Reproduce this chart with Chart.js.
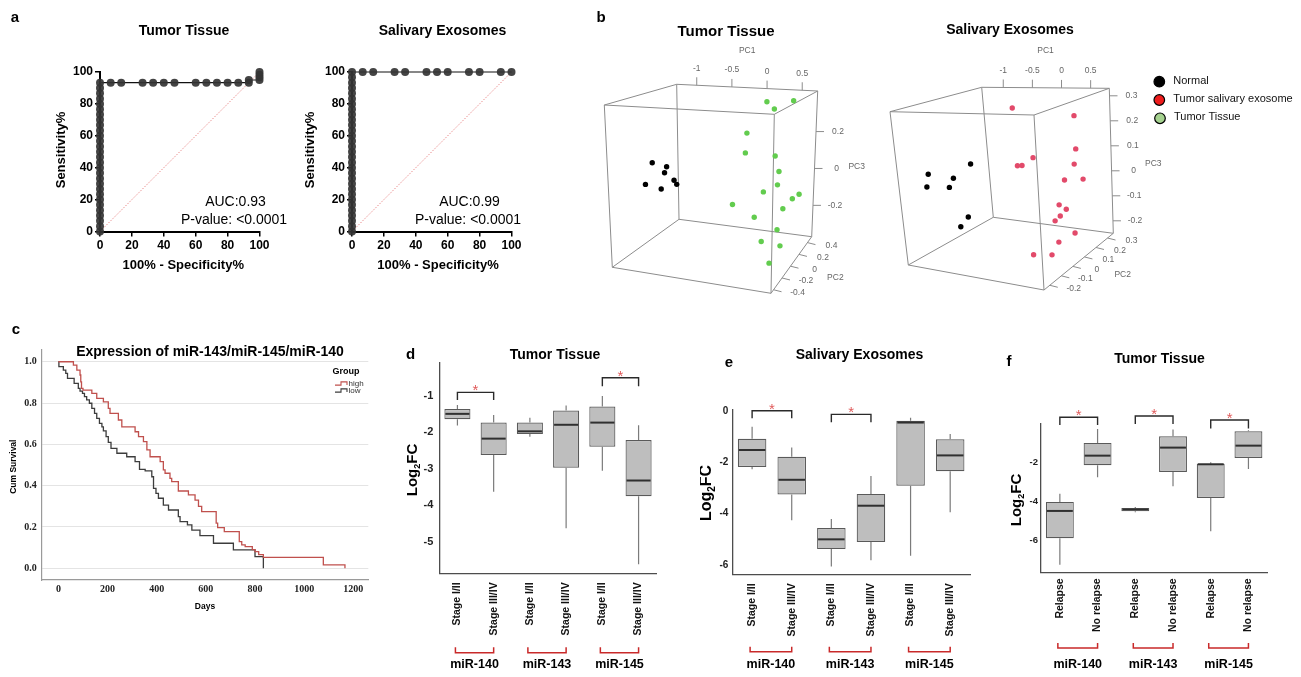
<!DOCTYPE html>
<html>
<head>
<meta charset="utf-8">
<title>miR-140 / miR-143 / miR-145 figure</title>
<script src="https://cdn.jsdelivr.net/npm/chart.js@4.4.1/dist/chart.umd.min.js"></script>
<style>
html,body{margin:0;padding:0;background:#ffffff;}
body{width:1301px;height:677px;position:relative;overflow:hidden;}
canvas{position:absolute;}
</style>
</head>
<body>
<canvas id="rocA1"></canvas>
<canvas id="rocA2"></canvas>
<canvas id="pcaB1"></canvas>
<canvas id="pcaB2"></canvas>
<canvas id="kmC"></canvas>
<canvas id="boxD"></canvas>
<canvas id="boxE"></canvas>
<canvas id="boxF"></canvas>
<script>
// ================= DATA =================
// Panel a : ROC curves (x = 100% - Specificity%, y = Sensitivity%)
const rocTicks = [0, 20, 40, 60, 80, 100];
const rocTissueX = [0,0,0,0,0,0,0,0,0,0, 0,0,0,0,0,0,0,0,0,0, 0,0,0,0,0,0,0,0,0,
  6.7,13.3,26.7,33.3,40,46.7,60,66.7,73.3,80,86.7,93.3, 93.3,100,100,100,100];
const rocTissueY = [0,3.3,6.7,10,13.3,16.7,20,23.3,26.7,30, 33.3,36.7,40,43.3,46.7,50,53.3,56.7,60,63.3,
  66.7,70,73.3,76.7,80,83.3,86.7,90,93.3,
  93.3,93.3,93.3,93.3,93.3,93.3,93.3,93.3,93.3,93.3,93.3,93.3, 95,95,96.7,98.3,100];
const rocSalivaX = [0,0,0,0,0,0,0,0,0,0, 0,0,0,0,0,0,0,0,0,0, 0,0,0,0,0,0,0,0,0,0,0,
  6.7,13.3,26.7,33.3,46.7,53.3,60,73.3,80,93.3,100];
const rocSalivaY = [0,3.3,6.7,10,13.3,16.7,20,23.3,26.7,30, 33.3,36.7,40,43.3,46.7,50,53.3,56.7,60,63.3,
  66.7,70,73.3,76.7,80,83.3,86.7,90,93.3,96.7,100,
  100,100,100,100,100,100,100,100,100,100,100];
const rocDiagX = [0, 100];
const rocDiagY = [0, 100];
const aucTissue = 'AUC:0.93';
const aucSaliva = 'AUC:0.99';
const pValueText = 'P-value: <0.0001';

// Panel b : PCA (PC1, PC2, PC3)
const pcaTissueLim1 = [-1.285, 0.72];
const pcaTissueLim2 = [-0.46, 0.5];
const pcaTissueLim3 = [-0.37, 0.42];
const pcaTissuePC1Ticks = [-1, -0.5, 0, 0.5];
const pcaTissuePC2Ticks = [-0.4, -0.2, 0, 0.2, 0.4];
const pcaTissuePC3Ticks = [-0.2, 0, 0.2];
const pcaTissueNormalPC1 = [-1.16, -0.97, -1.0, -0.875, -0.84, -1.26, -1.05];
const pcaTissueNormalPC2 = [0.02, 0.02, 0.02, 0.02, 0.02, 0.02, 0.02];
const pcaTissueNormalPC3 = [0.063, 0.049, 0.016, -0.018, -0.038, -0.056, -0.071];
const pcaTissueTumorPC1 = [0.279, 0.63, 0.379, 0.02, 0.002, 0.403, 0.459, 0.443, 0.253, 0.628, 0.65, -0.168, 0.524, 0.133, 0.451, 0.235, 0.497, 0.528];
const pcaTissueTumorPC2 = [0.12, 0.12, 0.12, 0.12, 0.12, 0.12, 0.12, 0.12, 0.12, 0.31, 0.12, 0.12, 0.12, 0.12, 0.12, 0.12, 0.12, -0.17];
const pcaTissueTumorPC3 = [0.404, 0.416, 0.369, 0.238, 0.136, 0.133, 0.057, -0.011, -0.054, -0.095, -0.073, -0.136, -0.128, -0.188, -0.236, -0.306, -0.315, -0.319];

const pcaSalivaLim1 = [-1.37, 0.82];
const pcaSalivaLim2 = [-0.25, 0.35];
const pcaSalivaLim3 = [-0.25, 0.33];
const pcaSalivaPC1Ticks = [-1, -0.5, 0, 0.5];
const pcaSalivaPC2Ticks = [-0.2, -0.1, 0, 0.1, 0.2, 0.3];
const pcaSalivaPC3Ticks = [-0.2, -0.1, 0, 0.1, 0.2, 0.3];
const pcaSalivaNormalPC1 = [-0.477, -1.173, -0.774, -1.217, -0.853, -0.59, -0.728];
const pcaSalivaNormalPC2 = [-0.13, -0.13, -0.13, -0.13, -0.13, -0.13, -0.13];
const pcaSalivaNormalPC3 = [0.123, 0.071, 0.064, 0.021, 0.028, -0.076, -0.117];
const pcaSalivaTumorPC1 = [-0.146, 0.465, 0.47, 0.141, -0.126, -0.05, 0.432, 0.251, 0.575, 0.135, 0.257, 0.145, 0.049, 0.393, 0.496, 0.312, 0.621];
const pcaSalivaTumorPC2 = [0.05, 0.23, 0.23, 0.05, 0.05, 0.05, 0.23, 0.23, 0.23, 0.23, 0.23, 0.23, 0.23, 0.23, 0.05, -0.07, -0.07];
const pcaSalivaTumorPC3 = [0.302, 0.243, 0.113, 0.117, 0.082, 0.084, 0.053, -0.013, -0.003, -0.114, -0.128, -0.158, -0.18, -0.218, -0.189, -0.203, -0.193];
const pcaLegendNames = ['Normal', 'Tumor salivary exosome', 'Tumor Tissue'];

// Panel c : Kaplan-Meier
const kmDayTicks = [0, 200, 400, 600, 800, 1000, 1200];
const kmSurvTicks = [0, 0.2, 0.4, 0.6, 0.8, 1.0];
const kmHighDays = [0,61,75,88,91,94,100,136,156,183,203,210,244,258,312,326,346,360,373,414,427,434,454,461,488,529,556,570,583,642,648,675,736,746,760,789,800,815,834,1078,1166];
const kmHighSurv = [1,0.984,0.96,0.936,0.903,0.871,0.863,0.847,0.823,0.806,0.774,0.75,0.718,0.685,0.661,0.637,0.613,0.573,0.54,0.516,0.476,0.46,0.435,0.419,0.374,0.355,0.33,0.30,0.274,0.218,0.197,0.177,0.129,0.113,0.105,0.09,0.08,0.066,0.053,0.016,0];
const kmLowDays = [0,2,20,30,37,64,81,88,98,106,115,126,136,147,156,167,177,183,194,203,214,238,278,312,330,353,380,387,397,407,427,448,488,495,525,543,576,631,712,800,834];
const kmLowSurv = [1,0.976,0.96,0.944,0.92,0.895,0.871,0.858,0.847,0.831,0.815,0.799,0.774,0.75,0.726,0.702,0.685,0.665,0.637,0.61,0.581,0.557,0.54,0.516,0.479,0.472,0.443,0.387,0.363,0.339,0.306,0.282,0.25,0.226,0.21,0.185,0.158,0.121,0.089,0.056,0];
const kmGroups = ['high', 'low'];

// Panels d / e / f : box plots (Log2FC)
const mirNames = ['miR-140', 'miR-143', 'miR-145'];
const stageLabels = ['Stage I/II', 'Stage III/IV', 'Stage I/II', 'Stage III/IV', 'Stage I/II', 'Stage III/IV'];
const relapseLabels = ['Relapse', 'No relapse', 'Relapse', 'No relapse', 'Relapse', 'No relapse'];

const dTicks = [-1, -2, -3, -4, -5];
const dMin = [-1.81, -3.63, -2.12, -4.63, -3.05, -5.62];
const dQ1  = [-1.64, -2.62, -2.04, -2.97, -2.39, -3.75];
const dMed = [-1.49, -2.17, -1.97, -1.79, -1.73, -3.32];
const dQ3  = [-1.36, -1.73, -1.73, -1.40, -1.29, -2.21];
const dMax = [-1.25, -1.52, -1.60, -1.26, -1.00, -1.80];
const dSigFrom = [0, 4], dSigTo = [1, 5], dSigTop = [-0.90, -0.50], dSigLeg = [-1.11, -0.73];

const eTicks = [0, -2, -4, -6];
const eMin = [-2.27, -4.26, -6.06, -5.81, -5.64, -3.94];
const eQ1  = [-2.18, -3.25, -5.38, -5.10, -2.91, -2.35];
const eMed = [-1.52, -2.68, -5.00, -3.69, -0.45, -1.73];
const eQ3  = [-1.08, -1.78, -4.56, -3.23, -0.38, -1.10];
const eMax = [-0.61, -1.42, -4.21, -2.53, -0.26, -0.90];
const eSigFrom = [0, 2], eSigTo = [1, 3], eSigTop = [0.01, -0.13], eSigLeg = [-0.28, -0.44];

const fTicks = [-2, -4, -6];
const fMin = [-7.24, -2.78, -4.57, -3.24, -5.54, -2.36];
const fQ1  = [-5.89, -2.17, -4.52, -2.51, -3.84, -1.80];
const fMed = [-4.50, -1.68, -4.43, -1.27, -2.12, -1.17];
const fQ3  = [-4.04, -1.03, -4.35, -0.69, -2.09, -0.44];
const fMax = [-3.62, -0.32, -4.30, -0.35, -2.02, -0.38];
const fSigFrom = [0, 2, 4], fSigTo = [1, 3, 5], fSigTop = [0.28, 0.34, 0.14], fSigLeg = [-0.12, -0.07, -0.29];

// ================= HELPERS =================
const FONT = '"Liberation Sans", Arial, Helvetica, sans-serif';
const SERIF = '"Liberation Serif", "Times New Roman", serif';
Chart.defaults.font.family = FONT;
Chart.defaults.animation = false;
Chart.defaults.responsive = false;
Chart.defaults.maintainAspectRatio = false;
Chart.defaults.events = [];
Chart.defaults.plugins.legend.display = false;
Chart.defaults.plugins.tooltip.enabled = false;

function place(id, r) {
  const cv = document.getElementById(id);
  cv.width = r.w; cv.height = r.h;
  cv.style.width = r.w + 'px'; cv.style.height = r.h + 'px';
  cv.style.left = r.x + 'px'; cv.style.top = r.y + 'px';
  return cv;
}
function padFor(r, a, yW, xH) {
  return { left: a.l - r.x - yW, top: a.t - r.y, right: r.x + r.w - a.r, bottom: r.y + r.h - a.b - xH };
}
function drawTexts(ctx, r, items) {
  items.forEach(it => {
    ctx.save();
    ctx.font = it.f;
    ctx.fillStyle = it.c || '#000';
    ctx.textAlign = it.a || 'center';
    ctx.textBaseline = it.b || 'middle';
    ctx.translate(it.x - r.x, it.y - r.y);
    if (it.rot) ctx.rotate(it.rot);
    ctx.fillText(it.t, 0, 0);
    ctx.restore();
  });
}
function drawLog2FC(ctx, r, x, y, size) {
  ctx.save();
  ctx.translate(x - r.x, y - r.y);
  ctx.rotate(-Math.PI / 2);
  ctx.fillStyle = '#000';
  ctx.textBaseline = 'middle';
  ctx.textAlign = 'left';
  const big = 'bold ' + size + 'px ' + FONT, small = 'bold ' + Math.round(size * 0.62) + 'px ' + FONT;
  ctx.font = big; const w1 = ctx.measureText('Log').width, w3 = ctx.measureText('FC').width;
  ctx.font = small; const w2 = ctx.measureText('2').width;
  let cx = -(w1 + w2 + w3) / 2;
  ctx.font = big; ctx.fillText('Log', cx, 0); cx += w1;
  ctx.font = small; ctx.fillText('2', cx, size * 0.32); cx += w2;
  ctx.font = big; ctx.fillText('FC', cx, 0);
  ctx.restore();
}
const ROT = -Math.PI / 2;

// ================= PANEL a : ROC =================
function rocAxis(isX) {
  return {
    type: 'linear', min: 0, max: 100,
    afterBuildTicks: s => { s.ticks = rocTicks.map(v => ({ value: v })); },
    ticks: { font: { size: 12, weight: 'bold' }, color: '#000', padding: 2 },
    grid: { display: true, drawOnChartArea: false, drawTicks: true, tickLength: 5, color: '#000', lineWidth: 1.5 },
    border: { display: true, color: '#000', width: 2 },
    afterFit: isX ? (s => { s.height = 24; }) : (s => { s.width = 40; })
  };
}
function rocChart(id, r, a, xs, ys, texts) {
  return new Chart(place(id, r), {
    type: 'scatter',
    data: { datasets: [
      { data: xs.map((x, i) => ({ x: x, y: ys[i] })), showLine: true, borderColor: '#111', borderWidth: 1.2,
        pointRadius: 4, pointBackgroundColor: 'rgba(52,52,52,0.92)', pointBorderWidth: 0, clip: false },
      { data: rocDiagX.map((x, i) => ({ x: x, y: rocDiagY[i] })), showLine: true, borderColor: 'rgba(225,95,95,0.9)',
        borderWidth: 0.8, borderDash: [1.5, 1.5], pointRadius: 0, clip: false }
    ] },
    options: {
      layout: { padding: padFor(r, a, 40, 24), autoPadding: false },
      scales: { x: rocAxis(true), y: rocAxis(false) }
    },
    plugins: [{ id: id + 'txt', afterDraw(chart) { drawTexts(chart.ctx, r, texts); } }]
  });
}
const rA1 = { x: 0, y: 0, w: 295, h: 285 };
rocChart('rocA1', rA1, { l: 100, t: 72, r: 259.5, b: 231.5 }, rocTissueX, rocTissueY, [
  { t: 'a', x: 15, y: 18, f: 'bold 15px ' + FONT },
  { t: 'Tumor Tissue', x: 184, y: 31.5, f: 'bold 14px ' + FONT },
  { t: 'Sensitivity%', x: 61.7, y: 150, f: 'bold 13px ' + FONT, rot: ROT },
  { t: '100% - Specificity%', x: 183.3, y: 265.7, f: 'bold 13px ' + FONT },
  { t: aucTissue, x: 235.5, y: 202, f: '14px ' + FONT },
  { t: pValueText, x: 234, y: 220, f: '14px ' + FONT }
]);
const rA2 = { x: 295, y: 0, w: 290, h: 285 };
rocChart('rocA2', rA2, { l: 352, t: 72, r: 511.5, b: 231.5 }, rocSalivaX, rocSalivaY, [
  { t: 'Salivary Exosomes', x: 442.5, y: 30.7, f: 'bold 14px ' + FONT },
  { t: 'Sensitivity%', x: 310, y: 150, f: 'bold 13px ' + FONT, rot: ROT },
  { t: '100% - Specificity%', x: 438, y: 265.7, f: 'bold 13px ' + FONT },
  { t: aucSaliva, x: 469.5, y: 202, f: '14px ' + FONT },
  { t: pValueText, x: 468, y: 220, f: '14px ' + FONT }
]);

// ================= PANEL b : 3D PCA =================
function proj(view, a, b, c) {
  const u = (a - view.r1[0]) / (view.r1[1] - view.r1[0]);
  const v = (b - view.r2[0]) / (view.r2[1] - view.r2[0]);
  const w = (c - view.r3[0]) / (view.r3[1] - view.r3[0]);
  const C = view.c, L = (p, q, t) => [p[0] + (q[0] - p[0]) * t, p[1] + (q[1] - p[1]) * t];
  const front = L(L(C['000'], C['100'], u), L(C['001'], C['101'], u), w);
  const back = L(L(C['010'], C['110'], u), L(C['011'], C['111'], u), w);
  const p = L(front, back, v);
  return { x: p[0], y: p[1] };
}
function pcaChart(id, r, view, groups, tk, texts, legend) {
  const R1 = view.r1, R2 = view.r2, R3 = view.r3;
  const datasets = groups.map(g => ({
    data: g.pc1.map((v, i) => proj(view, v, g.pc2[i], g.pc3[i])),
    pointRadius: 2.7, pointBackgroundColor: g.color, pointBorderWidth: 0, showLine: false, clip: false
  }));
  const corner = (u, v, w) => proj(view, R1[u], R2[v], R3[w]);
  const edges = [
    [[0,0,0],[1,0,0]], [[0,0,1],[1,0,1]], [[0,1,0],[1,1,0]], [[0,1,1],[1,1,1]],
    [[0,0,0],[0,1,0]], [[1,0,0],[1,1,0]], [[0,0,1],[0,1,1]], [[1,0,1],[1,1,1]],
    [[0,0,0],[0,0,1]], [[1,0,0],[1,0,1]], [[0,1,0],[0,1,1]], [[1,1,0],[1,1,1]]
  ];
  edges.forEach(e => datasets.push({
    data: [corner(e[0][0], e[0][1], e[0][2]), corner(e[1][0], e[1][1], e[1][2])],
    showLine: true, borderColor: '#8c8c8c', borderWidth: 1, pointRadius: 0, clip: false
  }));
  return new Chart(place(id, r), {
    type: 'scatter',
    data: { datasets: datasets },
    options: {
      layout: { padding: 0, autoPadding: false },
      scales: {
        x: { type: 'linear', display: false, min: 0, max: r.w },
        y: { type: 'linear', display: false, min: 0, max: r.h, reverse: true }
      }
    },
    plugins: [{ id: id + 'ax', afterDraw(chart) {
      const ctx = chart.ctx, sx = chart.scales.x, sy = chart.scales.y;
      const P = (a, b, c) => { const p = proj(view, a, b, c); return [sx.getPixelForValue(p.x), sy.getPixelForValue(p.y)]; };
      const seg = (x1, y1, x2, y2) => { ctx.beginPath(); ctx.moveTo(x1, y1); ctx.lineTo(x2, y2); ctx.stroke(); };
      ctx.save();
      ctx.strokeStyle = '#8c8c8c'; ctx.lineWidth = 1; ctx.fillStyle = '#666';
      ctx.font = '8.5px ' + FONT; ctx.textAlign = 'center'; ctx.textBaseline = 'middle';
      tk.pc1.forEach(t => { const q = P(t, R2[1], R3[1]); seg(q[0], q[1], q[0], q[1] - 8); ctx.fillText(String(t), q[0], q[1] - 17); });
      tk.pc3.forEach(t => { const q = P(R1[1], R2[1], t); seg(q[0], q[1], q[0] + 8, q[1]); ctx.fillText(String(t), q[0] + 22, q[1]); });
      tk.pc2.forEach(t => { const q = P(R1[1], t, R3[0]); seg(q[0], q[1], q[0] + 8, q[1] + 2); ctx.fillText(String(t), q[0] + 24, q[1] + 3); });
      const m1 = P((R1[0] + R1[1]) / 2, R2[1], R3[1]); ctx.fillText('PC1', m1[0], m1[1] - 37);
      const m3 = P(R1[1], R2[1], (R3[0] + R3[1]) / 2); ctx.fillText('PC3', m3[0] + 42, m3[1] + 3);
      const m2 = P(R1[1], (R2[0] + R2[1]) / 2, R3[0]); ctx.fillText('PC2', m2[0] + 44, m2[1] + 13);
      ctx.restore();
      drawTexts(ctx, r, texts);
      if (legend) {
        legend.forEach(it => {
          ctx.save();
          ctx.beginPath(); ctx.arc(it.x - r.x, it.y - r.y, 5.3, 0, Math.PI * 2);
          ctx.fillStyle = it.color; ctx.fill();
          ctx.strokeStyle = '#000'; ctx.lineWidth = 1.2; ctx.stroke();
          ctx.fillStyle = '#111'; ctx.font = '11px ' + FONT; ctx.textAlign = 'left'; ctx.textBaseline = 'middle';
          ctx.fillText(it.t, it.x - r.x + 14, it.y - r.y - 1);
          ctx.restore();
        });
      }
    } }]
  });
}
const viewTissue = { r1: pcaTissueLim1, r2: pcaTissueLim2, r3: pcaTissueLim3,
  c: { '000': [22.3, 267.3], '100': [181, 293.3], '001': [14.3, 105], '101': [184.3, 114.3],
       '010': [89, 219.3], '110': [221.7, 236.7], '011': [86.7, 84.3], '111': [227.7, 91] } };
const viewSaliva = { r1: pcaSalivaLim1, r2: pcaSalivaLim2, r3: pcaSalivaLim3,
  c: { '000': [28.3, 265], '100': [164, 290], '001': [10, 111.7], '101': [154, 115],
       '010': [113.3, 217.3], '110': [233.3, 233.3], '011': [101.7, 87.3], '111': [229.3, 88.3] } };
const rB1 = { x: 590, y: 0, w: 290, h: 310 };
pcaChart('pcaB1', rB1, viewTissue, [
  { pc1: pcaTissueTumorPC1, pc2: pcaTissueTumorPC2, pc3: pcaTissueTumorPC3, color: '#62cc4e' },
  { pc1: pcaTissueNormalPC1, pc2: pcaTissueNormalPC2, pc3: pcaTissueNormalPC3, color: '#000000' }
], { pc1: pcaTissuePC1Ticks, pc2: pcaTissuePC2Ticks, pc3: pcaTissuePC3Ticks }, [
  { t: 'b', x: 601, y: 18, f: 'bold 15px ' + FONT },
  { t: 'Tumor Tissue', x: 726, y: 31.7, f: 'bold 15px ' + FONT }
], null);
const rB2 = { x: 880, y: 0, w: 421, h: 310 };
pcaChart('pcaB2', rB2, viewSaliva, [
  { pc1: pcaSalivaTumorPC1, pc2: pcaSalivaTumorPC2, pc3: pcaSalivaTumorPC3, color: '#e24a6a' },
  { pc1: pcaSalivaNormalPC1, pc2: pcaSalivaNormalPC2, pc3: pcaSalivaNormalPC3, color: '#000000' }
], { pc1: pcaSalivaPC1Ticks, pc2: pcaSalivaPC2Ticks, pc3: pcaSalivaPC3Ticks }, [
  { t: 'Salivary Exosomes', x: 1010, y: 30, f: 'bold 14px ' + FONT }
], [
  { t: pcaLegendNames[0], x: 1159.3, y: 81.7, color: '#000000' },
  { t: pcaLegendNames[1], x: 1159.3, y: 100, color: '#ee1c1c' },
  { t: pcaLegendNames[2], x: 1160, y: 118.3, color: '#a5d28f' }
]);

// ================= PANEL c : Kaplan-Meier =================
const rC = { x: 0, y: 320, w: 380, h: 300 };
const aC = { l: 41.7, t: 350, r: 368.3, b: 580 };
new Chart(place('kmC', rC), {
  type: 'scatter',
  data: { datasets: [
    { data: kmHighDays.map((d, i) => ({ x: d, y: kmHighSurv[i] })), showLine: true, stepped: 'before',
      borderColor: '#c0504d', borderWidth: 1.3, pointRadius: 0, clip: false },
    { data: kmLowDays.map((d, i) => ({ x: d, y: kmLowSurv[i] })), showLine: true, stepped: 'before',
      borderColor: '#3c3c3c', borderWidth: 1.3, pointRadius: 0, clip: false }
  ] },
  options: {
    layout: { padding: padFor(rC, aC, 30, 22), autoPadding: false },
    scales: {
      x: { type: 'linear', min: -68, max: 1261,
        afterBuildTicks: s => { s.ticks = kmDayTicks.map(v => ({ value: v })); },
        ticks: { font: { family: SERIF, size: 10, weight: 'bold' }, color: '#222', padding: 3, callback: v => String(v) },
        grid: { display: false, drawTicks: false }, border: { display: true, color: '#9a9a9a', width: 1.2 },
        afterFit: s => { s.height = 22; } },
      y: { type: 'linear', min: -0.057, max: 1.057,
        afterBuildTicks: s => { s.ticks = kmSurvTicks.map(v => ({ value: v })); },
        ticks: { font: { family: SERIF, size: 10, weight: 'bold' }, color: '#222', padding: 5, callback: v => Number(v).toFixed(1) },
        grid: { display: true, drawTicks: false, color: '#e4e4e4', lineWidth: 1 },
        border: { display: true, color: '#9a9a9a', width: 1.2 },
        afterFit: s => { s.width = 30; } }
    }
  },
  plugins: [{ id: 'kmtxt', afterDraw(chart) {
    const ctx = chart.ctx;
    drawTexts(ctx, rC, [
      { t: 'c', x: 16, y: 330, f: 'bold 15px ' + FONT },
      { t: 'Expression of miR-143/miR-145/miR-140', x: 210, y: 351.7, f: 'bold 14px ' + FONT },
      { t: 'Cum Survival', x: 13.3, y: 466.7, f: 'bold 8.5px ' + FONT, rot: ROT },
      { t: 'Days', x: 205, y: 606.7, f: 'bold 8.5px ' + FONT },
      { t: 'Group', x: 346, y: 372, f: 'bold 9px ' + FONT },
      { t: kmGroups[0], x: 348.5, y: 383.5, f: '8px ' + FONT, a: 'left', c: '#333' },
      { t: kmGroups[1], x: 348.5, y: 390.5, f: '8px ' + FONT, a: 'left', c: '#333' }
    ]);
    const icon = (y, col) => {
      ctx.save(); ctx.strokeStyle = col; ctx.lineWidth = 1.1; ctx.beginPath();
      ctx.moveTo(335 - rC.x, y + 1.6 - rC.y); ctx.lineTo(341 - rC.x, y + 1.6 - rC.y); ctx.lineTo(341 - rC.x, y - 1.6 - rC.y);
      ctx.lineTo(347 - rC.x, y - 1.6 - rC.y); ctx.lineTo(347 - rC.x, y + 1.6 - rC.y); ctx.stroke(); ctx.restore();
    };
    icon(383.5, '#c0504d'); icon(390.5, '#3c3c3c');
  } }]
});

// ================= PANELS d / e / f : box plots =================
function boxChart(id, r, a, yW, cfg) {
  return new Chart(place(id, r), {
    type: 'bar',
    data: { labels: cfg.labels, datasets: [{
      data: cfg.q1.map((q, i) => [q, cfg.q3[i]]), backgroundColor: '#bebebe', borderColor: '#5a5a5a',
      borderWidth: 1.2, borderSkipped: false, barPercentage: cfg.bp, categoryPercentage: 1 }] },
    options: {
      layout: { padding: padFor(r, a, yW, 75), autoPadding: false },
      scales: {
        x: { ticks: { minRotation: 90, maxRotation: 90, autoSkip: false, font: { size: 10.5, weight: 'bold' }, color: '#111', padding: cfg.lp },
             grid: { display: false, drawTicks: false }, border: { display: true, color: '#4d4d4d', width: 1.3 },
             afterFit: s => { s.height = 75; } },
        y: { type: 'linear', min: cfg.yMin, max: cfg.yMax,
             afterBuildTicks: s => { s.ticks = cfg.ticks.map(v => ({ value: v })); },
             ticks: { font: { size: cfg.tf, weight: 'bold' }, color: '#222', padding: cfg.tp, callback: v => String(v) },
             grid: { display: false, drawTicks: false }, border: { display: true, color: '#4d4d4d', width: 1.3 },
             afterFit: s => { s.width = yW; } }
      }
    },
    plugins: [{ id: id + 'box', afterDatasetsDraw(chart) {
      const ctx = chart.ctx, ys = chart.scales.y, bars = chart.getDatasetMeta(0).data;
      ctx.save();
      bars.forEach((b, i) => {
        const x = b.x, hw = b.width / 2;
        ctx.strokeStyle = '#7b7b7b'; ctx.lineWidth = 1.2;
        ctx.beginPath();
        ctx.moveTo(x, ys.getPixelForValue(cfg.q3[i])); ctx.lineTo(x, ys.getPixelForValue(cfg.hi[i]));
        ctx.moveTo(x, ys.getPixelForValue(cfg.q1[i])); ctx.lineTo(x, ys.getPixelForValue(cfg.lo[i]));
        ctx.stroke();
        const ym = ys.getPixelForValue(cfg.med[i]);
        ctx.strokeStyle = '#303030'; ctx.lineWidth = 2;
        ctx.beginPath(); ctx.moveTo(x - hw + 1, ym); ctx.lineTo(x + hw - 1, ym); ctx.stroke();
      });
      cfg.sigFrom.forEach((fi, k) => {
        const x1 = bars[fi].x, x2 = bars[cfg.sigTo[k]].x;
        const yt = ys.getPixelForValue(cfg.sigTop[k]), yl = ys.getPixelForValue(cfg.sigLeg[k]);
        ctx.strokeStyle = '#2a2a2a'; ctx.lineWidth = 1.4;
        ctx.beginPath(); ctx.moveTo(x1, yl); ctx.lineTo(x1, yt); ctx.lineTo(x2, yt); ctx.lineTo(x2, yl); ctx.stroke();
        ctx.fillStyle = '#e05a5a'; ctx.font = '15px ' + FONT; ctx.textAlign = 'center'; ctx.textBaseline = 'alphabetic';
        ctx.fillText('*', (x1 + x2) / 2, yt + 3);
      });
      mirNames.forEach((g, k) => {
        const x1 = bars[2 * k].x - 2, x2 = bars[2 * k + 1].x;
        const yb = cfg.gBot - r.y, yt = cfg.gTop - r.y;
        ctx.strokeStyle = '#c92a2a'; ctx.lineWidth = 1.5;
        ctx.beginPath(); ctx.moveTo(x1, yt); ctx.lineTo(x1, yb); ctx.lineTo(x2, yb); ctx.lineTo(x2, yt); ctx.stroke();
        ctx.fillStyle = '#000'; ctx.font = 'bold 12.5px ' + FONT; ctx.textAlign = 'center'; ctx.textBaseline = 'middle';
        ctx.fillText(g, (x1 + x2) / 2, cfg.mirY - r.y);
      });
      ctx.restore();
    }, afterDraw(chart) {
      drawTexts(chart.ctx, r, cfg.texts);
      drawLog2FC(chart.ctx, r, cfg.logX, cfg.logY, cfg.logSize);
    } }]
  });
}
const rD = { x: 380, y: 335, w: 320, h: 342 };
boxChart('boxD', rD, { l: 439.3, t: 363, r: 656.7, b: 573.3 }, 30, {
  labels: stageLabels, lo: dMin, q1: dQ1, med: dMed, q3: dQ3, hi: dMax,
  ticks: dTicks, yMin: -5.867, yMax: -0.094, tf: 11, tp: 6, bp: 0.72, lp: 9,
  sigFrom: dSigFrom, sigTo: dSigTo, sigTop: dSigTop, sigLeg: dSigLeg,
  gTop: 647.3, gBot: 652.7, mirY: 665,
  texts: [ { t: 'd', x: 410.7, y: 355, f: 'bold 15px ' + FONT },
           { t: 'Tumor Tissue', x: 555, y: 355, f: 'bold 14px ' + FONT } ],
  logX: 413, logY: 470, logSize: 15
});
const rE = { x: 700, y: 335, w: 290, h: 342 };
boxChart('boxE', rE, { l: 732.3, t: 410, r: 970, b: 574.3 }, 24, {
  labels: stageLabels, lo: eMin, q1: eQ1, med: eMed, q3: eQ3, hi: eMax,
  ticks: eTicks, yMin: -6.362, yMax: 0.039, tf: 10, tp: 4, bp: 0.72, lp: 9,
  sigFrom: eSigFrom, sigTo: eSigTo, sigTop: eSigTop, sigLeg: eSigLeg,
  gTop: 646.7, gBot: 651.7, mirY: 665,
  texts: [ { t: 'e', x: 729, y: 363.3, f: 'bold 15px ' + FONT },
           { t: 'Salivary Exosomes', x: 859.5, y: 355, f: 'bold 14px ' + FONT } ],
  logX: 706.7, logY: 493, logSize: 16
});
const rF = { x: 990, y: 335, w: 311, h: 342 };
boxChart('boxF', rF, { l: 1041, t: 423.3, r: 1267.3, b: 572.3 }, 24, {
  labels: relapseLabels, lo: fMin, q1: fQ1, med: fMed, q3: fQ3, hi: fMax,
  ticks: fTicks, yMin: -7.63, yMax: -0.03, tf: 9.5, tp: 3, bp: 0.74, lp: 6,
  sigFrom: fSigFrom, sigTo: fSigTo, sigTop: fSigTop, sigLeg: fSigLeg,
  gTop: 643, gBot: 648, mirY: 665,
  texts: [ { t: 'f', x: 1009, y: 361.7, f: 'bold 15px ' + FONT },
           { t: 'Tumor Tissue', x: 1159.5, y: 359.3, f: 'bold 14px ' + FONT } ],
  logX: 1016.7, logY: 500, logSize: 15
});
</script>
</body>
</html>
